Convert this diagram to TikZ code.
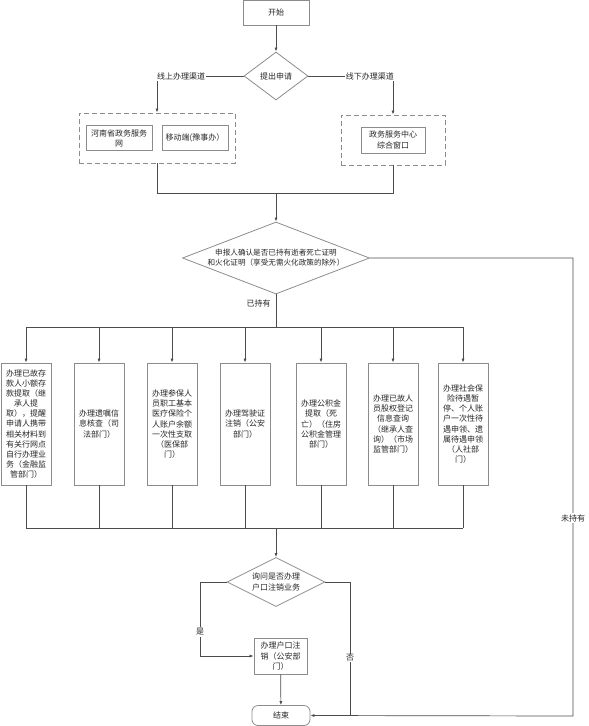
\documentclass[tikz,border=0pt]{standalone}
\usepackage{fontspec}
\setmainfont{Noto Sans CJK SC}
\usetikzlibrary{shapes.geometric,arrows.meta}
\usetikzlibrary{positioning}

\begin{document}
\begin{tikzpicture}[x=1pt,y=-1pt,font=\fontsize{8}{10.1}\selectfont]
% define box types
\tikzstyle{procbox}=[draw=black!45, rectangle, line width=0.8pt, align=center,
    text=black!85, inner sep=1pt]
\tikzstyle{tallbox}=[procbox, minimum width=50pt, minimum height=122pt]
\tikzstyle{chanbox}=[draw=black!45, rectangle, dashed, line width=0.8pt,
    dash pattern=on 5pt off 3pt]
\tikzstyle{decide}=[draw=black!45, diamond, line width=0.8pt, align=center,
    text=black!85, inner sep=0pt]
\tikzstyle{lbl}=[fill=white, inner sep=1pt, text=black!85]
\tikzstyle{a}=[draw=black!70, line width=0.7pt, ->, >={Latex[length=4pt,width=3pt]}]
\tikzstyle{ln}=[draw=black!70, line width=0.7pt]
\useasboundingbox (0,0) rectangle (589,726);
% top
\node[procbox, minimum width=66pt, minimum height=25pt] (start) at (276,12.5) {开始};
\node[decide, aspect=1.33, minimum width=64pt, minimum height=48pt] (apply) at (276,76) {提出申请};
% channels
\node[chanbox, minimum width=156pt, minimum height=50pt] (online) at (157,138) {};
\node[procbox, minimum width=66pt, minimum height=25pt] (web) at (119,138) {河南省政务服务\\网};
\node[procbox, minimum width=66pt, minimum height=25pt] (mobile) at (195,138) {移动端(豫事办）};
\node[chanbox, minimum width=104pt, minimum height=50pt] (offline) at (393,140) {};
\node[procbox, minimum width=64pt, minimum height=26pt] (window) at (393,140) {政务服务中心\\综合窗口};
\coordinate (merge) at (276,193);
\node[decide, aspect=2.6, minimum width=187pt, minimum height=72pt,
    font=\fontsize{7.6}{10}\selectfont] (confirm) at (276,258)
    {申报人确认是否已持有逝者死亡证明\\和火化证明（享受无需火化政策的除外）};
% tasks
\coordinate (busa) at (276,327);
\coordinate (busl) at (26,327);
\coordinate (busr) at (463,327);
\node[tallbox] (deposit) at (26,424) {办理已故存\\款人小额存\\款提取（继\\承人提\\取），提醒\\申请人携带\\相关材料到\\有关行网点\\自行办理业\\务（金融监\\管部门）};
\node[tallbox] (will) at (99,424) {办理遗嘱信\\息核查（司\\法部门）};
\node[tallbox] (medical) at (172,424) {办理参保人\\员职工基本\\医疗保险个\\人账户余额\\一次性支取\\（医保部\\门）};
\node[tallbox] (license) at (245,424) {办理驾驶证\\注销（公安\\部门）};
\node[tallbox] (fund) at (321,424) {办理公积金\\提取（死\\亡）（住房\\公积金管理\\部门）};
\node[tallbox] (equity) at (393,424) {办理已故人\\员股权登记\\信息查询\\（继承人查\\询）（市场\\监管部门）};
\node[tallbox] (pension) at (463,424) {办理社会保\\险待遇暂\\停、个人账\\户一次性待\\遇申领、遗\\属待遇申领\\（人社部\\门）};
\coordinate (busb) at (276,528);
\coordinate (busbl) at (26,528);
\coordinate (busbr) at (463,528);
% bottom
\node[decide, aspect=2, minimum width=98pt, minimum height=49pt] (ask) at (276,582) {询问是否办理\\户口注销业务};
\node[procbox, minimum width=53pt, minimum height=36pt] (cancel) at (280.5,656) {办理户口注\\销（公安部\\门）};
\node[procbox, rounded corners=6pt, minimum width=58pt, minimum height=20pt] (end) at (281,715.5) {结束};
\coordinate (yes) at (200,582);
\coordinate (no) at (350,716);
\coordinate (none) at (573,716);
% first layer
\draw[a] (start) -- (apply);
\draw[a] (apply.west) -| (online.north);
\draw[a] (apply.east) -| (offline.north);
\node[lbl, anchor=west] at (156,76) {线上办理渠道};
\node[lbl, anchor=east] at (395,76) {线下办理渠道};
\draw[ln] (online.south) |- (merge);
\draw[ln] (offline.south) |- (merge);
\draw[a] (merge) -- (confirm.north);
% second layer
\draw[ln] (confirm.south) -- (busa);
\node[lbl] at (258.5,303) {已持有};
\draw[ln] (busl) -- (busr);
\draw[a] (busl) -- (deposit.north);
\draw[a] (99,327) -- (will.north);
\draw[a] (172,327) -- (medical.north);
\draw[a] (245,327) -- (license.north);
\draw[a] (321,327) -- (fund.north);
\draw[a] (393,327) -- (equity.north);
\draw[a] (busr) -- (pension.north);
\draw[ln] (deposit.south) -- (busbl);
\draw[ln] (will.south) -- (99,528);
\draw[ln] (medical.south) -- (172,528);
\draw[ln] (license.south) -- (245,528);
\draw[ln] (fund.south) -- (321,528);
\draw[ln] (equity.south) -- (393,528);
\draw[ln] (pension.south) -- (busbr);
\draw[ln] (busbl) -- (busbr);
\draw[a] (busb) -- (ask.north);
% last layer
\draw[a] (ask.west) -- (yes) |- (cancel.west);
\node[lbl] at (200,632) {是};
\draw[a] (cancel) -- (end);
\draw[ln] (ask.east) -| (no);
\node[lbl] at (350,658) {否};
\draw[a] (confirm.east) -| (none) -- (end.east);
\node[lbl] at (573,518) {未持有};
\end{tikzpicture}
\end{document}
